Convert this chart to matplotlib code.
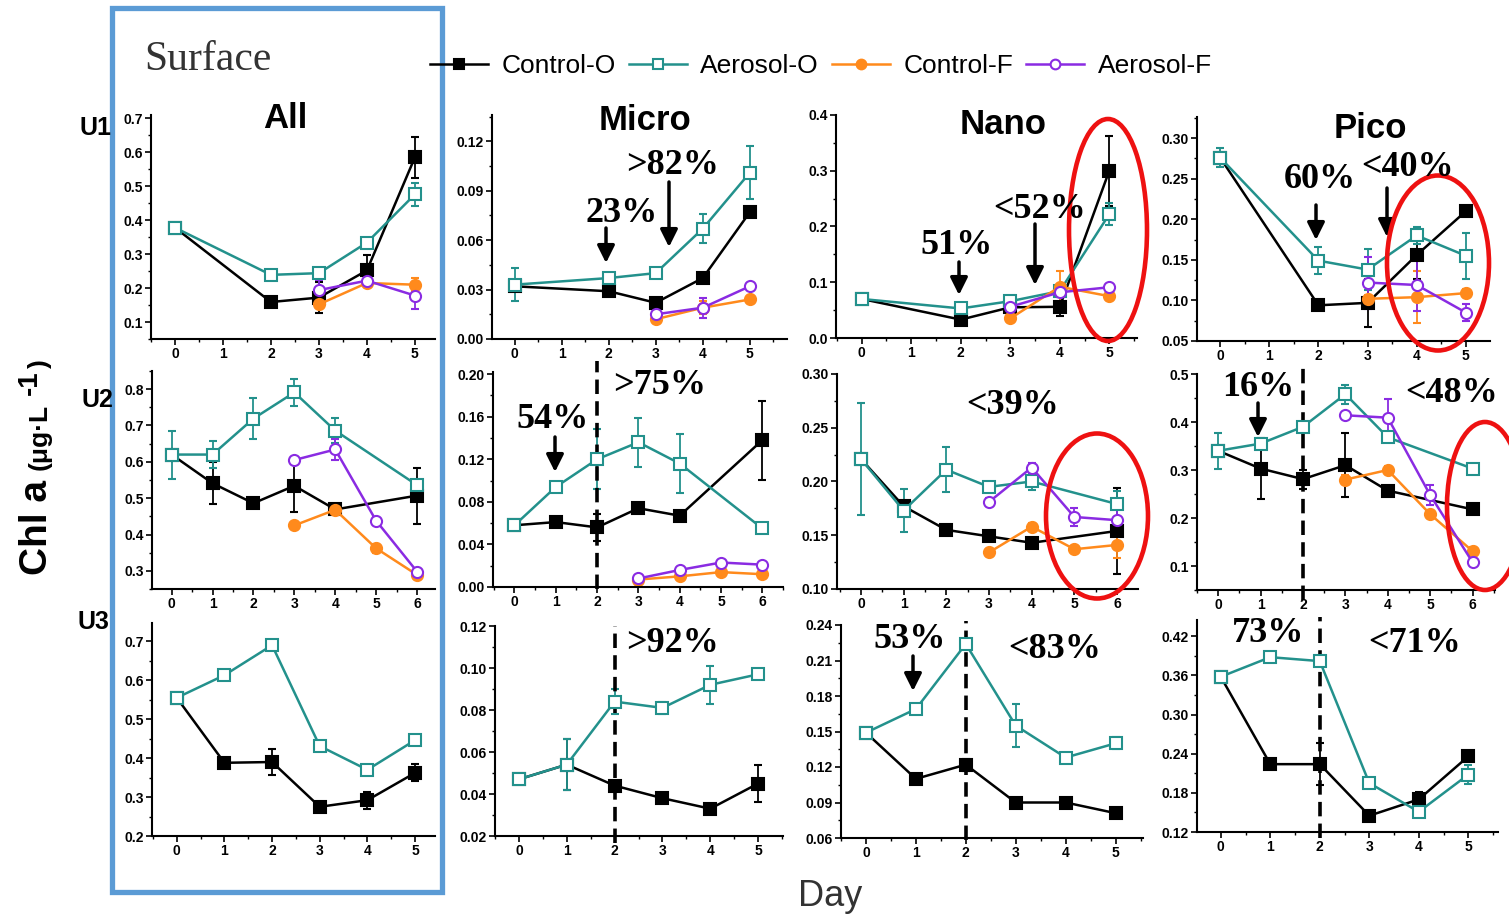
import matplotlib
matplotlib.use('Agg')
import matplotlib.pyplot as plt
from matplotlib.patches import Ellipse, Rectangle, FancyArrowPatch
from matplotlib.lines import Line2D
from matplotlib.ticker import MultipleLocator, FormatStrFormatter

plt.rcParams['font.family'] = ['Liberation Sans', 'DejaVu Sans']
plt.rcParams['font.weight'] = 'bold'

W, H = 1509, 919

# sampling days
days_u1_o = [0, 2, 3, 4, 5]
days_u1_f = [3, 4, 5]
days_u2_o = [0, 1, 2, 3, 4, 6]
days_u2_f = [3, 4, 5, 6]
days_u3_o = [0, 1, 2, 3, 4, 5]

# ---- U1 ----
u1_all_ctrl_o = [0.378, 0.159, 0.172, 0.252, 0.585]
u1_all_ctrl_o_err = [0.005, 0.008, 0.045, 0.045, 0.06]
u1_all_aero_o = [0.378, 0.239, 0.244, 0.334, 0.476]
u1_all_aero_o_err = [0.01, 0.015, 0.012, 0.012, 0.035]
u1_all_ctrl_f = [0.152, 0.215, 0.21]
u1_all_ctrl_f_err = [0.01, 0.01, 0.02]
u1_all_aero_f = [0.194, 0.222, 0.178]
u1_all_aero_f_err = [0.03, 0.02, 0.04]

u1_micro_ctrl_o = [0.032, 0.029, 0.022, 0.037, 0.077]
u1_micro_ctrl_o_err = [0.002, 0.002, 0.002, 0.002, 0.002]
u1_micro_aero_o = [0.033, 0.037, 0.040, 0.067, 0.101]
u1_micro_aero_o_err = [0.010, 0.003, 0.003, 0.009, 0.016]
u1_micro_ctrl_f = [0.012, 0.019, 0.024]
u1_micro_ctrl_f_err = [0.002, 0.004, 0.002]
u1_micro_aero_f = [0.015, 0.019, 0.032]
u1_micro_aero_f_err = [0.003, 0.006, 0.002]

u1_nano_ctrl_o = [0.070, 0.033, 0.055, 0.056, 0.300]
u1_nano_ctrl_o_err = [0.005, 0.005, 0.008, 0.017, 0.063]
u1_nano_aero_o = [0.070, 0.053, 0.066, 0.084, 0.222]
u1_nano_aero_o_err = [0.005, 0.008, 0.006, 0.006, 0.02]
u1_nano_ctrl_f = [0.035, 0.092, 0.075]
u1_nano_ctrl_f_err = [0.005, 0.028, 0.006]
u1_nano_aero_f = [0.056, 0.082, 0.091]
u1_nano_aero_f_err = [0.006, 0.008, 0.006]

u1_pico_ctrl_o = [0.276, 0.094, 0.097, 0.156, 0.210]
u1_pico_ctrl_o_err = [0.005, 0.003, 0.03, 0.03, 0.004]
u1_pico_aero_o = [0.276, 0.149, 0.138, 0.180, 0.155]
u1_pico_aero_o_err = [0.012, 0.017, 0.025, 0.01, 0.028]
u1_pico_ctrl_f = [0.102, 0.104, 0.109]
u1_pico_ctrl_f_err = [0.005, 0.032, 0.005]
u1_pico_aero_f = [0.122, 0.119, 0.085]
u1_pico_aero_f_err = [0.032, 0.032, 0.01]

# ---- U2 ----
u2_all_ctrl_o = [0.62, 0.541, 0.486, 0.534, 0.469, 0.507]
u2_all_ctrl_o_err = [0.01, 0.058, 0.01, 0.072, 0.01, 0.077]
u2_all_aero_o = [0.62, 0.62, 0.719, 0.791, 0.686, 0.536]
u2_all_aero_o_err = [0.066, 0.037, 0.056, 0.037, 0.035, 0.01]
u2_all_ctrl_f = [0.425, 0.468, 0.362, 0.289]
u2_all_ctrl_f_err = [0.008, 0.008, 0.012, 0.008]
u2_all_aero_f = [0.605, 0.634, 0.438, 0.298]
u2_all_aero_f_err = [0.008, 0.03, 0.01, 0.01]

u2_micro_ctrl_o = [0.058, 0.061, 0.056, 0.074, 0.067, 0.138]
u2_micro_ctrl_o_err = [0.002, 0.004, 0.013, 0.002, 0.002, 0.037]
u2_micro_aero_o = [0.058, 0.094, 0.120, 0.136, 0.116, 0.055]
u2_micro_aero_o_err = [0.002, 0.002, 0.028, 0.023, 0.028, 0.002]
u2_micro_ctrl_f = [0.007, 0.010, 0.014, 0.012]
u2_micro_ctrl_f_err = [0.001, 0.001, 0.001, 0.001]
u2_micro_aero_f = [0.008, 0.016, 0.023, 0.021]
u2_micro_aero_f_err = [0.002, 0.003, 0.002, 0.002]

u2_nano_ctrl_o = [0.221, 0.177, 0.155, 0.149, 0.143, 0.154]
u2_nano_ctrl_o_err = [0.005, 0.005, 0.005, 0.004, 0.004, 0.04]
u2_nano_aero_o = [0.221, 0.173, 0.211, 0.195, 0.200, 0.179]
u2_nano_aero_o_err = [0.052, 0.02, 0.021, 0.004, 0.008, 0.012]
u2_nano_ctrl_f = [0.134, 0.158, 0.137, 0.141]
u2_nano_ctrl_f_err = [0.003, 0.003, 0.003, 0.012]
u2_nano_aero_f = [0.181, 0.213, 0.167, 0.164]
u2_nano_aero_f_err = [0.004, 0.004, 0.008, 0.01]

u2_pico_ctrl_o = [0.34, 0.303, 0.281, 0.310, 0.257, 0.218]
u2_pico_ctrl_o_err = [0.005, 0.063, 0.02, 0.067, 0.01, 0.005]
u2_pico_aero_o = [0.34, 0.355, 0.390, 0.458, 0.368, 0.303]
u2_pico_aero_o_err = [0.037, 0.01, 0.005, 0.02, 0.01, 0.01]
u2_pico_ctrl_f = [0.280, 0.300, 0.208, 0.131]
u2_pico_ctrl_f_err = [0.01, 0.008, 0.008, 0.008]
u2_pico_aero_f = [0.414, 0.409, 0.248, 0.108]
u2_pico_aero_f_err = [0.005, 0.038, 0.02, 0.008]

# ---- U3 ----
u3_all_ctrl_o = [0.555, 0.388, 0.390, 0.275, 0.292, 0.362]
u3_all_ctrl_o_err = [0.005, 0.008, 0.033, 0.005, 0.022, 0.022]
u3_all_aero_o = [0.555, 0.613, 0.690, 0.431, 0.370, 0.446]
u3_all_aero_o_err = [0.006, 0.008, 0.01, 0.006, 0.008, 0.012]

u3_micro_ctrl_o = [0.047, 0.054, 0.044, 0.038, 0.033, 0.045]
u3_micro_ctrl_o_err = [0.001, 0.012, 0.002, 0.001, 0.001, 0.009]
u3_micro_aero_o = [0.047, 0.054, 0.084, 0.081, 0.092, 0.097]
u3_micro_aero_o_err = [0.002, 0.012, 0.006, 0.003, 0.009, 0.001]

u3_nano_ctrl_o = [0.149, 0.110, 0.122, 0.090, 0.090, 0.081]
u3_nano_ctrl_o_err = [0.002, 0.002, 0.005, 0.002, 0.002, 0.003]
u3_nano_aero_o = [0.149, 0.169, 0.224, 0.155, 0.128, 0.140]
u3_nano_aero_o_err = [0.002, 0.003, 0.003, 0.018, 0.002, 0.005]

u3_pico_ctrl_o = [0.358, 0.224, 0.224, 0.145, 0.170, 0.236]
u3_pico_ctrl_o_err = [0.003, 0.003, 0.032, 0.005, 0.012, 0.005]
u3_pico_aero_o = [0.358, 0.388, 0.382, 0.195, 0.151, 0.208]
u3_pico_aero_o_err = [0.005, 0.005, 0.005, 0.005, 0.008, 0.015]

series_names = ['Control-O', 'Aerosol-O', 'Control-F', 'Aerosol-F']
teal = '#23918C'
orange = '#FF8A1C'
purple = '#8A2BE2'
styles = {
    'Control-O': dict(color='black', marker='s', mfc='black'),
    'Aerosol-O': dict(color=teal, marker='s', mfc='white'),
    'Control-F': dict(color=orange, marker='o', mfc=orange),
    'Aerosol-F': dict(color=purple, marker='o', mfc='white'),
}

# panel layout: pixel box (x0, y0, x1, y1), xlim, ylim, y major step, tick format, dashed line span
panels = [
    dict(box=(151, 115, 435, 339), xlim=(-0.5, 5.42), ylim=(0.05, 0.71), step=0.1, fmt='%.1f', nx=5,
         data=[(days_u1_o, u1_all_ctrl_o, u1_all_ctrl_o_err), (days_u1_o, u1_all_aero_o, u1_all_aero_o_err),
               (days_u1_f, u1_all_ctrl_f, u1_all_ctrl_f_err), (days_u1_f, u1_all_aero_f, u1_all_aero_f_err)]),
    dict(box=(492, 115, 787, 339), xlim=(-0.48, 5.79), ylim=(0, 0.136), step=0.03, fmt='%.2f', nx=5,
         data=[(days_u1_o, u1_micro_ctrl_o, u1_micro_ctrl_o_err), (days_u1_o, u1_micro_aero_o, u1_micro_aero_o_err),
               (days_u1_f, u1_micro_ctrl_f, u1_micro_ctrl_f_err), (days_u1_f, u1_micro_aero_f, u1_micro_aero_f_err)]),
    dict(box=(836, 115, 1137, 338), xlim=(-0.52, 5.56), ylim=(0, 0.4), step=0.1, fmt='%.1f', nx=5,
         data=[(days_u1_o, u1_nano_ctrl_o, u1_nano_ctrl_o_err), (days_u1_o, u1_nano_aero_o, u1_nano_aero_o_err),
               (days_u1_f, u1_nano_ctrl_f, u1_nano_ctrl_f_err), (days_u1_f, u1_nano_aero_f, u1_nano_aero_f_err)]),
    dict(box=(1197, 117, 1490, 341), xlim=(-0.47, 5.49), ylim=(0.05, 0.326), step=0.05, fmt='%.2f', nx=5,
         data=[(days_u1_o, u1_pico_ctrl_o, u1_pico_ctrl_o_err), (days_u1_o, u1_pico_aero_o, u1_pico_aero_o_err),
               (days_u1_f, u1_pico_ctrl_f, u1_pico_ctrl_f_err), (days_u1_f, u1_pico_aero_f, u1_pico_aero_f_err)]),
    dict(box=(152, 371, 435, 589), xlim=(-0.48, 6.44), ylim=(0.25, 0.85), step=0.1, fmt='%.1f', nx=6,
         data=[(days_u2_o, u2_all_ctrl_o, u2_all_ctrl_o_err), (days_u2_o, u2_all_aero_o, u2_all_aero_o_err),
               (days_u2_f, u2_all_ctrl_f, u2_all_ctrl_f_err), (days_u2_f, u2_all_aero_f, u2_all_aero_f_err)]),
    dict(box=(493, 372, 783, 587), xlim=(-0.52, 6.5), ylim=(0, 0.202), step=0.04, fmt='%.2f', nx=6,
         dash=(-0.01, 1.05),
         data=[(days_u2_o, u2_micro_ctrl_o, u2_micro_ctrl_o_err), (days_u2_o, u2_micro_aero_o, u2_micro_aero_o_err),
               (days_u2_f, u2_micro_ctrl_f, u2_micro_ctrl_f_err), (days_u2_f, u2_micro_aero_f, u2_micro_aero_f_err)]),
    dict(box=(837, 374, 1138, 589), xlim=(-0.56, 6.49), ylim=(0.1, 0.30), step=0.05, fmt='%.2f', nx=6,
         data=[(days_u2_o, u2_nano_ctrl_o, u2_nano_ctrl_o_err), (days_u2_o, u2_nano_aero_o, u2_nano_aero_o_err),
               (days_u2_f, u2_nano_ctrl_f, u2_nano_ctrl_f_err), (days_u2_f, u2_nano_aero_f, u2_nano_aero_f_err)]),
    dict(box=(1197, 374, 1495, 590), xlim=(-0.5, 6.53), ylim=(0.05, 0.5), step=0.1, fmt='%.1f', nx=6,
         dash=(-0.045, 1.03),
         data=[(days_u2_o, u2_pico_ctrl_o, u2_pico_ctrl_o_err), (days_u2_o, u2_pico_aero_o, u2_pico_aero_o_err),
               (days_u2_f, u2_pico_ctrl_f, u2_pico_ctrl_f_err), (days_u2_f, u2_pico_aero_f, u2_pico_aero_f_err)]),
    dict(box=(152, 623, 435, 836), xlim=(-0.52, 5.42), ylim=(0.2, 0.747), step=0.1, fmt='%.1f', nx=5,
         data=[(days_u3_o, u3_all_ctrl_o, u3_all_ctrl_o_err), (days_u3_o, u3_all_aero_o, u3_all_aero_o_err)]),
    dict(box=(495, 626, 783, 836), xlim=(-0.5, 5.52), ylim=(0.02, 0.12), step=0.02, fmt='%.2f', nx=5,
         dash=(-0.035, 1.0),
         data=[(days_u3_o, u3_micro_ctrl_o, u3_micro_ctrl_o_err), (days_u3_o, u3_micro_aero_o, u3_micro_aero_o_err)]),
    dict(box=(841, 625, 1143, 838), xlim=(-0.5, 5.55), ylim=(0.06, 0.24), step=0.03, fmt='%.2f', nx=5,
         dash=(-0.01, 1.02),
         data=[(days_u3_o, u3_nano_ctrl_o, u3_nano_ctrl_o_err), (days_u3_o, u3_nano_aero_o, u3_nano_aero_o_err)]),
    dict(box=(1197, 620, 1498, 832), xlim=(-0.48, 5.6), ylim=(0.12, 0.445), step=0.06, fmt='%.2f', nx=5,
         dash=(-0.03, 1.015),
         data=[(days_u3_o, u3_pico_ctrl_o, u3_pico_ctrl_o_err), (days_u3_o, u3_pico_aero_o, u3_pico_aero_o_err)]),
]


def fx(x, y):
    # pixel (top-left origin) -> figure fraction
    return (x / W, 1 - y / H)


fig = plt.figure(figsize=(W / 100, H / 100), dpi=100)

for p in panels:
    x0, y0, x1, y1 = p['box']
    ax = fig.add_axes([x0 / W, 1 - y1 / H, (x1 - x0) / W, (y1 - y0) / H])
    for name, (d, v, e) in zip(series_names, p['data']):
        st = styles[name]
        ax.errorbar(d, v, yerr=e, color=st['color'], marker=st['marker'], mfc=st['mfc'],
                    mec=st['color'], ms=8, mew=1.5, lw=1.8, elinewidth=1.3, capsize=3, capthick=1.3)
    if 'dash' in p:
        ax.axvline(2, ymin=p['dash'][0], ymax=p['dash'][1], color='black', ls=(0, (4, 2)),
                   lw=2.6, clip_on=False)
    ax.set_xlim(p['xlim'])
    ax.set_ylim(p['ylim'])
    ax.set_xticks(range(0, p['nx'] + 1))
    ax.xaxis.set_minor_locator(MultipleLocator(0.5))
    ax.yaxis.set_major_locator(MultipleLocator(p['step']))
    ax.yaxis.set_minor_locator(MultipleLocator(p['step'] / 2))
    ax.yaxis.set_major_formatter(FormatStrFormatter(p['fmt']))
    for s in ['top', 'right']:
        ax.spines[s].set_visible(False)
    for s in ['left', 'bottom']:
        ax.spines[s].set_linewidth(1.5)
    ax.tick_params(which='major', direction='out', length=4, width=1.2, labelsize=10, pad=2)
    ax.tick_params(which='minor', direction='out', length=2.5, width=1.0)
    ax.patch.set_alpha(0)

# column titles and row labels
for t, (x, y) in zip(['All', 'Micro', 'Nano', 'Pico'], [(285, 118), (645, 120), (1003, 125), (1370, 128)]):
    fig.text(*fx(x, y), t, fontsize=25, ha='center', va='center')
for t, (x, y) in zip(['U1', 'U2', 'U3'], [(96, 128), (97, 400), (93, 622)]):
    fig.text(*fx(x, y), t, fontsize=18, ha='center', va='center')

# percentage annotations
pct_texts = ['23%', '>82%', '51%', '<52%', '60%', '<40%', '54%', '>75%', '<39%', '16%', '<48%',
             '>92%', '53%', '<83%', '73%', '<71%']
pct_pos = [(622, 213), (673, 165), (957, 245), (1040, 210), (1320, 180), (1408, 167), (553, 420),
           (660, 385), (1013, 405), (1258, 388), (1452, 393), (673, 643), (910, 640), (1055, 650),
           (1268, 633), (1415, 643)]
for t, (x, y) in zip(pct_texts, pct_pos):
    fig.text(*fx(x, y), t, fontsize=26, ha='center', va='center',
             family=['Liberation Serif', 'DejaVu Serif'])

arrows = [(606, 228, 263), (669, 182, 247), (959, 262, 295), (1035, 224, 285), (1316, 205, 240),
          (1387, 188, 237), (555, 437, 472), (1258, 403, 437), (913, 656, 691)]
for x, ya, yb in arrows:
    fig.add_artist(FancyArrowPatch(fx(x, ya), fx(x, yb), transform=fig.transFigure,
                                   arrowstyle='-|>', mutation_scale=26, lw=2.5, color='black',
                                   shrinkA=0, shrinkB=0))

# red highlight ellipses
for cx, cy, w, h in [(1108, 230, 78, 222), (1438, 263, 102, 175), (1097, 516, 102, 165), (1485, 506, 76, 168)]:
    fig.add_artist(Ellipse(fx(cx, cy), w / W, h / H, transform=fig.transFigure, fill=False,
                           ec='#EE1111', lw=3.3))

# surface box
fig.add_artist(Rectangle(fx(112, 892), (442 - 112) / W, (892 - 8) / H, transform=fig.transFigure,
                         fill=False, ec='#5B9BD5', lw=3.8))
fig.text(*fx(208, 60), 'Surface', fontsize=30, ha='center', va='center', weight='normal',
         color='#333333', family=['Liberation Serif', 'DejaVu Serif'])

# legend
handles = [Line2D([], [], color=styles[n]['color'], marker=styles[n]['marker'], mfc=styles[n]['mfc'],
                  mec=styles[n]['color'], ms=7, mew=1.5, lw=1.8) for n in series_names]
fig.legend(handles, series_names, loc='center', bbox_to_anchor=fx(821, 66), ncol=4, frameon=False,
           prop={'size': 19, 'weight': 'normal'}, handlelength=2.2, handletextpad=0.5,
           columnspacing=0.5)

# axis labels
fig.text(*fx(830, 897), 'Day', fontsize=26, ha='center', va='center', weight='normal', color='#333333')
fig.text(*fx(37, 575), 'Chl a', fontsize=28, rotation=90, ha='center', va='bottom')
fig.text(*fx(40, 470), '(μg·L', fontsize=19, rotation=90, ha='center', va='bottom')
fig.text(*fx(30, 395), '-1', fontsize=20, rotation=90, ha='center', va='bottom')
fig.text(*fx(40, 368), ')', fontsize=19, rotation=90, ha='center', va='bottom')

fig.savefig('out.png', dpi=100)
